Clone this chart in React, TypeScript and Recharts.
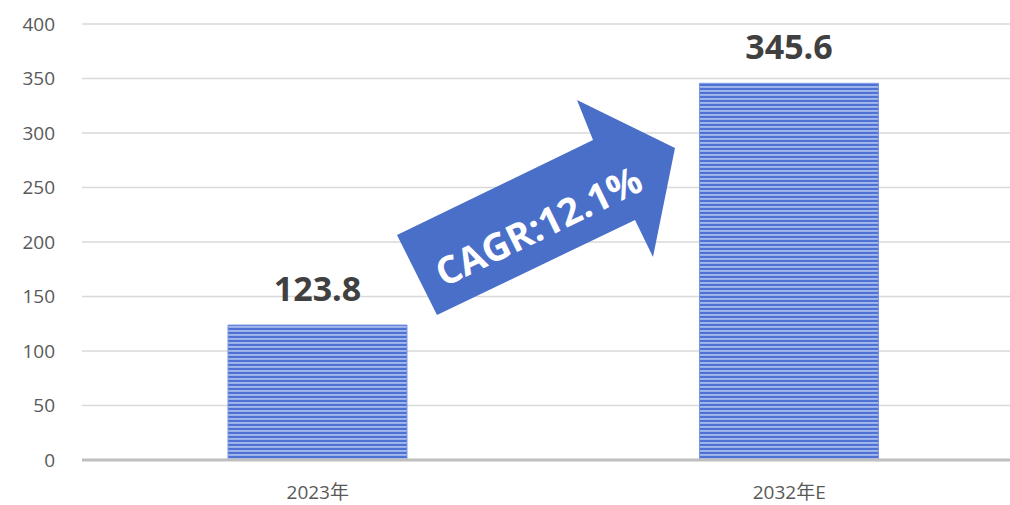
import { Bar, BarChart, CartesianGrid, LabelList, XAxis, YAxis } from 'recharts';

const categories = ['2023年', '2032年E'];
const marketValues = [123.8, 345.6];
const yTicks = [0, 50, 100, 150, 200, 250, 300, 350, 400];
const cagrLabel = 'CAGR:12.1%';

const rows = categories.map((name, i) => ({ name, value: marketValues[i] }));

const FONT = '"Open Sans", "Noto Sans CJK SC", sans-serif';

export default function App() {
  return (
    <div style={{ position: 'absolute', left: 0, top: 0, width: 1010, height: 505, overflow: 'hidden', background: '#fff' }}>
      <BarChart width={1025} height={505} data={rows} margin={{ top: 24, right: 0, left: 0, bottom: 5 }} barSize={179}>
        <defs>
          <pattern id="stripes" patternUnits="userSpaceOnUse" width="4" height="4">
            <rect x="0" y="0" width="4" height="4" fill="#4d72d3" />
            <rect x="0" y="2.2" width="4" height="1.5" fill="#b9c9f1" />
          </pattern>
        </defs>
        <CartesianGrid vertical={false} stroke="#d9d9d9" strokeWidth={1.5} />
        <YAxis
          width={82}
          domain={[0, 400]}
          ticks={yTicks}
          axisLine={false}
          tickLine={false}
          tickSize={0}
          tickMargin={27}
          tick={{ fill: '#595959', fontSize: 19, fontFamily: FONT }}
        />
        <XAxis
          dataKey="name"
          height={40}
          axisLine={{ stroke: '#bfbfbf', strokeWidth: 3 }}
          tickLine={false}
          tickSize={0}
          tickMargin={26}
          tick={{ fill: '#595959', fontSize: 19, fontFamily: FONT }}
        />
        <Bar dataKey="value" fill="url(#stripes)" stroke="#7895e2" strokeWidth={1} isAnimationActive={false}>
          <LabelList
            dataKey="value"
            position="top"
            offset={24}
            style={{ fill: '#404040', fontSize: 34, fontWeight: 700, fontFamily: FONT }}
          />
        </Bar>
      </BarChart>
      <svg width={1010} height={505} style={{ position: 'absolute', left: 0, top: 0, pointerEvents: 'none' }}>
        <polygon
          points="397,235 593,140 577,100 675,148 653,257 635,220 437,315"
          fill="#4a6fc9"
        />
        <text
          x={538}
          y={225}
          textAnchor="middle"
          dominantBaseline="central"
          transform="rotate(-26 538 225)"
          fill="#ffffff"
          fontSize={38}
          fontWeight={700}
          fontFamily={FONT}
        >
          {cagrLabel}
        </text>
      </svg>
    </div>
  );
}
